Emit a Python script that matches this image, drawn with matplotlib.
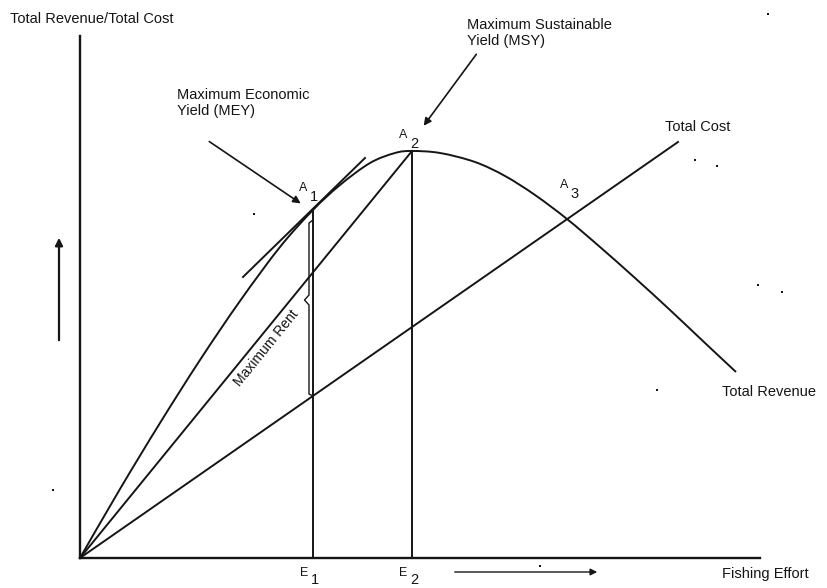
import numpy as np
import matplotlib.pyplot as plt
from matplotlib.path import Path
from matplotlib.patches import PathPatch

# values (effort / value in chart units, origin at the axes corner)
rev_effort = [0, 4, 8, 12, 16, 20, 23.3, 26, 29, 31.5, 33.2, 36, 39.5, 42.5, 45.5, 48.7, 52, 55.5, 59, 62.5, 65.6]
rev_value = [0, 6.9, 13.5, 19.8, 25.7, 31.1, 34.8, 37.3, 39.5, 40.5, 40.7, 40.5, 39.6, 38.2, 36.3, 33.9, 31.1, 28.0, 24.8, 21.5, 18.6]

cost_effort = [0, 59.8]
cost_value = [0, 41.6]

# tangent at MEY
tan_effort = [16.3, 28.5]
tan_value = [28.1, 40.0]

E1, A1 = 23.3, 34.8
E2, A2 = 33.2, 40.7
cost_at_E1 = 16.2
brace_tip = 25.8

# specks left by the scan
speck_x = [-2.7, 61.5, 63.7, 67.8, 70.2, 57.7, 46.0, 68.8, 17.4]
speck_y = [6.8, 39.8, 39.2, 27.3, 26.6, 16.8, -0.8, 54.4, 34.4]

ink = '#151515'
plt.rcParams['font.family'] = ['Liberation Sans', 'DejaVu Sans']


def smooth_path(xs, ys):
    # catmull-rom through the read points, drawn as cubic bezier pieces
    p = np.column_stack([xs, ys]).astype(float)
    p = np.vstack([p[0], p, p[-1]])
    verts = [p[1]]
    codes = [Path.MOVETO]
    for i in range(1, len(p) - 2):
        c1 = p[i] + (p[i + 1] - p[i - 1]) / 6
        c2 = p[i + 1] - (p[i + 2] - p[i]) / 6
        verts += [c1, c2, p[i + 1]]
        codes += [Path.CURVE4] * 3
    return Path(verts, codes)


fig = plt.figure(figsize=(8.27, 5.88), dpi=100)
ax = fig.add_axes([0, 0, 1, 1])
ax.set_xlim(-8, 74.7)
ax.set_ylim(-3.0, 55.8)

for s in ['top', 'right']:
    ax.spines[s].set_visible(False)
ax.spines['left'].set_position(('data', 0))
ax.spines['bottom'].set_position(('data', 0))
ax.spines['left'].set_bounds(0, 52.2)
ax.spines['bottom'].set_bounds(0, 68)
for s in ['left', 'bottom']:
    ax.spines[s].set_linewidth(1.7)
    ax.spines[s].set_color(ink)
ax.set_xticks([])
ax.set_yticks([])

lw = 1.4
ax.add_patch(PathPatch(smooth_path(rev_effort, rev_value), fill=False, edgecolor=ink, lw=lw))
ax.plot(cost_effort, cost_value, color=ink, lw=lw)
ax.plot([0, E2], [0, A2], color=ink, lw=lw)
ax.plot(tan_effort, tan_value, color=ink, lw=lw)
ax.plot([E1, E1], [0, A1], color=ink, lw=lw)
ax.plot([E2, E2], [0, A2], color=ink, lw=lw)

# maximum rent brace, just left of E1
bx = E1 - 0.4
ax.plot([E1, bx, bx, bx - 0.45, bx, bx, E1],
        [A1 - 1.0, A1 - 1.3, brace_tip + 0.5, brace_tip, brace_tip - 0.5, cost_at_E1 + 0.2, cost_at_E1],
        color=ink, lw=1.0)
ax.text(18.6, 21.0, 'Maximum Rent', rotation=51, fontsize=10, ha='center', va='center', color=ink)

ax.scatter(speck_x, speck_y, s=3, color=ink, marker='s', lw=0)

fs = 10.5
arrow = dict(arrowstyle='-|>', color=ink, lw=1.2, mutation_scale=11)

ax.text(-7.0, 53.9, 'Total Revenue/Total Cost', fontsize=fs, va='center', color=ink)
ax.text(9.7, 45.5, 'Maximum Economic\nYield (MEY)', fontsize=fs, va='center', linespacing=1.25, color=ink)
ax.annotate('', xy=(22.3, 35.3), xytext=(12.7, 41.8), arrowprops=arrow)
ax.text(38.7, 52.5, 'Maximum Sustainable\nYield (MSY)', fontsize=fs, va='center', linespacing=1.25, color=ink)
ax.annotate('', xy=(34.2, 43.0), xytext=(39.8, 50.6), arrowprops=arrow)

ax.text(58.5, 43.1, 'Total Cost', fontsize=fs, va='center', color=ink)
ax.text(64.2, 16.6, 'Total Revenue', fontsize=fs, va='center', color=ink)
ax.text(64.2, -1.6, 'Fishing Effort', fontsize=fs, va='center', color=ink)

# point labels with spaced subscripts
for name, sub, x, y, dy in [('A', '1', 22.3, 37.0, 0.9), ('A', '2', 32.3, 42.3, 0.9), ('A', '3', 48.4, 37.3, 0.9),
                            ('E', '1', E1 - 0.9, -1.45, 0.8), ('E', '2', E2 - 0.9, -1.45, 0.8)]:
    ax.text(x, y, name, fontsize=9, ha='center', va='center', color=ink)
    ax.text(x + 1.1, y - dy, sub, fontsize=10.5, ha='center', va='center', color=ink)

ax.annotate('', xy=(52.0, -1.4), xytext=(37.2, -1.4), arrowprops=dict(arrowstyle='-|>', color=ink, lw=1.0, mutation_scale=10))
ax.annotate('', xy=(-2.1, 32.3), xytext=(-2.1, 21.5), arrowprops=dict(arrowstyle='-|>', color=ink, lw=1.6, mutation_scale=11))

fig.savefig('out.png', dpi=100, facecolor='white')
